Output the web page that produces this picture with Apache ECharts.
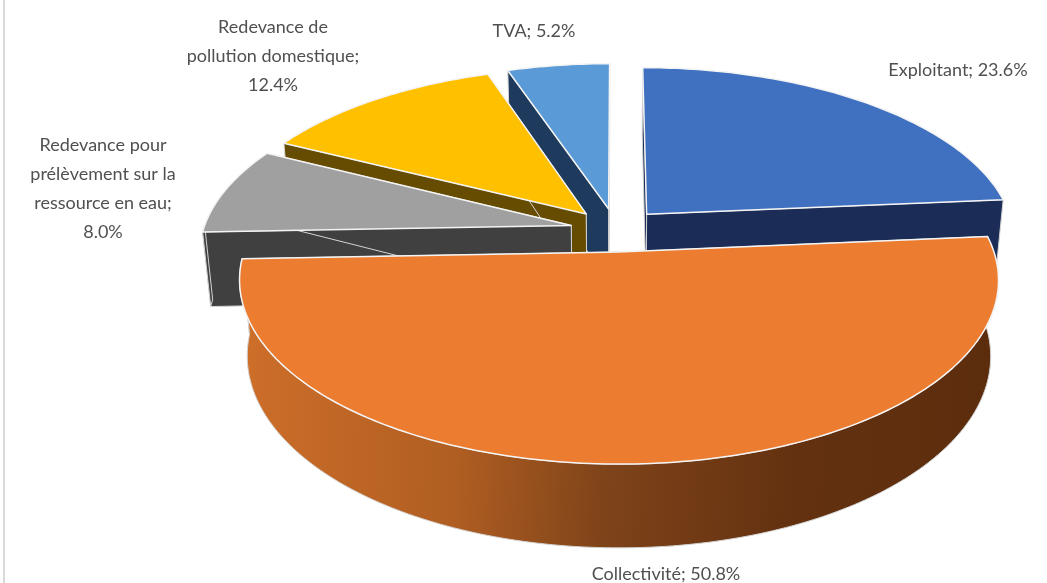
<!DOCTYPE html>
<html>
<head>
<meta charset="utf-8">
<style>
  html, body { margin: 0; padding: 0; background: #fff; }
  #main { width: 1047px; height: 583px; }
</style>
<script src="https://cdn.jsdelivr.net/npm/echarts@6/dist/echarts.min.js"></script>
</head>
<body>
<div id="main"></div>
<script>
// chart data, clockwise from 12 o'clock
const categories = ['Exploitant', 'Collectivité', 'Redevance pour\nprélèvement sur la\nressource en eau', 'Redevance de\npollution domestique', 'TVA']
const shares = [23.6, 50.8, 8.0, 12.4, 5.2]
const separators = ['; ', '; ', ';\n', ';\n', '; ']

// slice colours: top face, side face
const topColors = ['#4070c0', '#ec7c30', '#a0a0a0', '#ffc000', '#5a9ad6']
const sideColors = ['#1b2d57', {
  type: 'linear', x: 0, y: 0, x2: 1, y2: 0.15,
  colorStops: [
    { offset: 0, color: '#cf6f2a' },
    { offset: 0.3, color: '#b05e22' },
    { offset: 0.5, color: '#7e4319' },
    { offset: 0.75, color: '#633110' },
    { offset: 1, color: '#5c2d0d' }
  ]
}, '#404040', '#664c00', '#1e3a5c']

// label anchors (centre x, top y)
const labelPos = [[958, 56], [666, 560], [103, 131], [273, 13], [534, 17]]

// pie projection
const CX = 616, CY = 230, R = 368
const EXPLODE = 0.125   // same for all slices
const TILT = 173, DEPTH = 76
const PERSP_Z = 0.15, PERSP_H = 0.02

const total = shares.reduce((a, b) => a + b, 0)
const starts = []
let acc = 0
shares.forEach(v => { starts.push(acc / total * 360); acc += v })

function project(i, deg, r, h) {
  const mid = (starts[i] + shares[i] / total * 180) * Math.PI / 180
  const t = deg * Math.PI / 180
  const x = EXPLODE * Math.sin(mid) + r * Math.sin(t)
  const z = -EXPLODE * Math.cos(mid) - r * Math.cos(t)
  const w = 1 / (1 - PERSP_Z * z + PERSP_H * h)
  return [CX + R * x * w, CY + (TILT * z + DEPTH * h) * w]
}

function arc(i, from, to, h) {
  const pts = []
  const n = Math.max(1, Math.ceil(Math.abs(to - from)))
  for (let k = 0; k <= n; k++) pts.push(project(i, from + (to - from) * k / n, 1, h))
  return pts
}

function poly(points, fill, stroke, width) {
  return { type: 'polygon', shape: { points: points }, style: { fill: fill, stroke: stroke, lineWidth: width, lineJoin: 'round' } }
}

function renderSlice(params, api) {
  const i = api.value(0)
  const a = starts[i], b = a + shares[i] / total * 360
  const side = sideColors[i]
  const edge = '#d4d4d4'
  const kids = []
  // radial faces
  ;[a, b].forEach(deg => {
    kids.push(poly([project(i, 0, 0, 0), project(i, deg, 1, 0), project(i, deg, 1, 1), project(i, 0, 0, 1)], side, edge, 1))
  })
  // outer wall, only the part facing the viewer
  const wa = Math.max(a, 90), wb = Math.min(b, 270)
  if (wb > wa) {
    kids.push(poly(arc(i, wa, wb, 0).concat(arc(i, wb, wa, 1)), side, edge, 1))
  }
  // top face
  kids.push(poly([project(i, 0, 0, 0)].concat(arc(i, a, b, 0)), topColors[i], '#f4f4f4', 1.5))
  return { type: 'group', children: kids }
}

// back slices first
const drawOrder = categories.map((c, i) => i).sort((p, q) => {
  const mp = starts[p] + shares[p] / total * 180, mq = starts[q] + shares[q] / total * 180
  return -Math.cos(mp * Math.PI / 180) + Math.cos(mq * Math.PI / 180)
})

const labelGraphics = categories.map((c, i) => ({
  type: 'text',
  silent: true,
  x: labelPos[i][0],
  y: labelPos[i][1],
  style: {
    text: c + separators[i] + shares[i].toFixed(1) + '%',
    fontFamily: 'Lato',
    fontSize: 18,
    lineHeight: 29,
    fill: '#505050',
    align: 'center',
    verticalAlign: 'top'
  }
}))

const option = {
  animation: false,
  backgroundColor: '#fff',
  graphic: [
    { type: 'rect', shape: { x: 3, y: 0, width: 2, height: 583 }, style: { fill: '#d9d9d9' } }
  ].concat(labelGraphics),
  series: [{
    type: 'custom',
    coordinateSystem: 'none',
    renderItem: renderSlice,
    data: drawOrder.map(i => [i])
  }]
}

var myChart = echarts.init(document.getElementById('main'))
myChart.setOption(option)
</script>
</body>
</html>
